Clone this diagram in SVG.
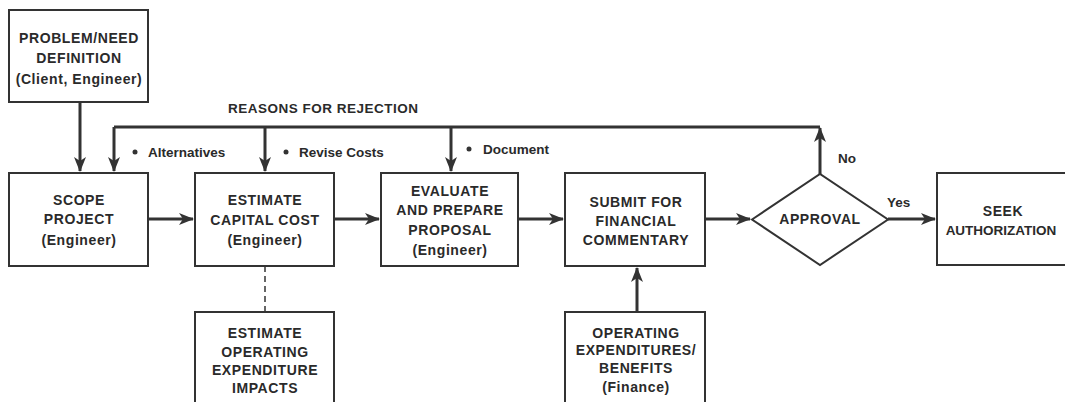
<svg xmlns="http://www.w3.org/2000/svg" width="1065" height="402" viewBox="0 0 1065 402">
<style>
.box{fill:#fff;stroke:#333;stroke-width:2}
.t{font-family:"Liberation Sans",Arial,sans-serif;font-size:14px;font-weight:bold;fill:#2a2a2a;text-anchor:middle;letter-spacing:0.6px}
.l{font-family:"Liberation Sans",Arial,sans-serif;font-size:13.5px;font-weight:bold;fill:#2a2a2a}
.c{fill:none;stroke:#333;stroke-width:3}
.d{fill:none;stroke:#333;stroke-width:1.5;stroke-dasharray:6,4}
</style>
<defs>
<marker id="ah" markerUnits="userSpaceOnUse" markerWidth="16" markerHeight="12" refX="14" refY="6" orient="auto">
<path d="M0,0 L15,6 L0,12 L4,6 z" fill="#333"/>
</marker>
</defs>
<rect width="1065" height="402" fill="#fff"/>
<g id="connectors">
<path class="c" d="M80,102 V171" marker-end="url(#ah)"/>
<path class="c" d="M820,174 V128" marker-end="url(#ah)"/>
<path class="c" d="M114,127 H820"/>
<path class="c" d="M114,127 V171" marker-end="url(#ah)"/>
<path class="c" d="M265,127 V171" marker-end="url(#ah)"/>
<path class="c" d="M451,127 V171" marker-end="url(#ah)"/>
<path class="c" d="M148,219 H193" marker-end="url(#ah)"/>
<path class="c" d="M334,219 H379" marker-end="url(#ah)"/>
<path class="c" d="M518,219 H563" marker-end="url(#ah)"/>
<path class="c" d="M705,219 H750" marker-end="url(#ah)"/>
<path class="c" d="M888,219 H935" marker-end="url(#ah)"/>
<path class="c" d="M637,312 V268" marker-end="url(#ah)"/>
<path class="d" d="M265,266 V312"/>
<text class="l" x="228" y="113" style="letter-spacing:0.5px">REASONS FOR REJECTION</text>
<circle cx="135" cy="152" r="2.5" fill="#333"/>
<text class="l" x="148" y="157">Alternatives</text>
<circle cx="286" cy="152" r="2.5" fill="#333"/>
<text class="l" x="299" y="157">Revise Costs</text>
<circle cx="469" cy="149" r="2.5" fill="#333"/>
<text class="l" x="483" y="154">Document</text>
<text class="l" x="838" y="163">No</text>
<text class="l" x="887" y="207">Yes</text>
</g>
<g id="problem">
<rect class="box" x="9" y="10" width="139" height="92"/>
<text class="t" x="79" y="43">PROBLEM/NEED</text>
<text class="t" x="79" y="63">DEFINITION</text>
<text class="t" x="79" y="84">(Client, Engineer)</text>
</g>
<g id="scope">
<rect class="box" x="9" y="173" width="139" height="93"/>
<text class="t" x="79" y="205">SCOPE</text>
<text class="t" x="79" y="224">PROJECT</text>
<text class="t" x="79" y="245">(Engineer)</text>
</g>
<g id="capital">
<rect class="box" x="195" y="173" width="139" height="93"/>
<text class="t" x="265" y="205">ESTIMATE</text>
<text class="t" x="265" y="225">CAPITAL COST</text>
<text class="t" x="265" y="245">(Engineer)</text>
</g>
<g id="evaluate">
<rect class="box" x="381" y="173" width="137" height="93"/>
<text class="t" x="450" y="196">EVALUATE</text>
<text class="t" x="450" y="215">AND PREPARE</text>
<text class="t" x="450" y="235">PROPOSAL</text>
<text class="t" x="450" y="255">(Engineer)</text>
</g>
<g id="submit">
<rect class="box" x="565" y="173" width="140" height="93"/>
<text class="t" x="636" y="207">SUBMIT FOR</text>
<text class="t" x="636" y="226">FINANCIAL</text>
<text class="t" x="636" y="245">COMMENTARY</text>
</g>
<g id="approval">
<polygon class="box" points="752,219.5 820,174 888,219.5 820,265"/>
<text class="t" x="820" y="224">APPROVAL</text>
</g>
<g id="seek">
<rect class="box" x="937" y="173" width="140" height="92"/>
<text class="t" x="1003" y="216">SEEK</text>
<text class="t" x="1001" y="235" style="font-size:13.5px;letter-spacing:0">AUTHORIZATION</text>
</g>
<g id="operating-impacts">
<rect class="box" x="195" y="312" width="139" height="95"/>
<text class="t" x="265" y="338">ESTIMATE</text>
<text class="t" x="265" y="357">OPERATING</text>
<text class="t" x="265" y="375">EXPENDITURE</text>
<text class="t" x="265" y="393">IMPACTS</text>
</g>
<g id="operating-benefits">
<rect class="box" x="565" y="312" width="140" height="95"/>
<text class="t" x="636" y="338">OPERATING</text>
<text class="t" x="636" y="355">EXPENDITURES/</text>
<text class="t" x="636" y="373">BENEFITS</text>
<text class="t" x="636" y="392">(Finance)</text>
</g>
</svg>
